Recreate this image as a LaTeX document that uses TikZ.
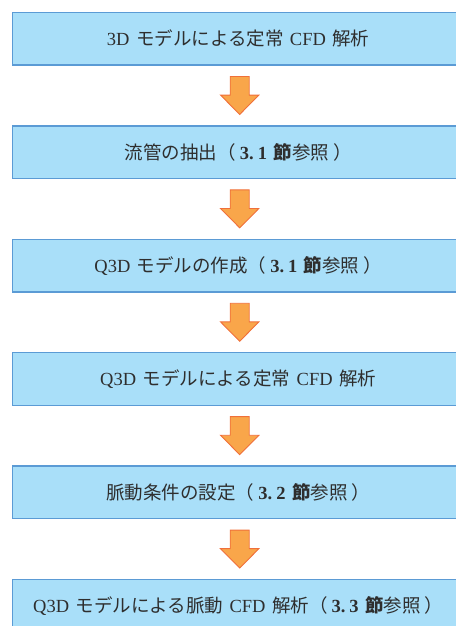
\documentclass[tikz,border=0pt]{standalone}
\usepackage{fontspec}
\setmainfont{Liberation Serif}
\newfontfamily\jp{Noto Sans CJK JP}
\usetikzlibrary{calc}
\definecolor{boxfill}{HTML}{A9DFF9}
\definecolor{boxline}{HTML}{5B9BD5}
\definecolor{arrfill}{HTML}{F9A64A}
\definecolor{arrline}{HTML}{F0703A}
\definecolor{txt}{HTML}{2E2E2E}
\newcommand\gap{\hspace{6.5pt}}
\newcommand\lp{{\jp （}\hspace{4pt}}
\newcommand\rp{\hspace{4pt}{\jp ）}}
\begin{document}
\begin{tikzpicture}[x=1pt,y=-1pt,
  flowbox/.style={draw=boxline, line width=1.4pt, fill=boxfill,
    minimum width=451pt, minimum height=52.7pt, anchor=north west,
    inner sep=0pt, text=txt, font=\fontsize{18.5}{21}\selectfont},
  flowarrow/.style={draw=arrline, line width=0.9pt, fill=arrfill, line join=miter}]
\useasboundingbox (0,0) rectangle (455,626);
\node[flowbox] (b1) at (12,11.7)
  {3D\gap{\jp モデルによる定常}\gap CFD\gap{\jp 解析}};
\node[flowbox] (b2) at (12,125.1)
  {{\jp 流管の抽出}\lp\textbf{3.\hspace{4pt}1}\gap{\jp\bfseries 節}{\jp 参照}\rp};
\node[flowbox] (b3) at (12,238.5)
  {Q3D\gap{\jp モデルの作成}\lp\textbf{3.\hspace{4pt}1}\gap{\jp\bfseries 節}{\jp 参照}\rp};
\node[flowbox] (b4) at (12,351.9)
  {Q3D\gap{\jp モデルによる定常}\gap CFD\gap{\jp 解析}};
\node[flowbox] (b5) at (12,465.3)
  {{\jp 脈動条件の設定}\lp\textbf{3.\hspace{4pt}2}\gap{\jp\bfseries 節}{\jp 参照}\rp};
\node[flowbox] (b6) at (12,578.7)
  {Q3D\gap{\jp モデルによる脈動}\gap CFD\gap{\jp 解析}\lp\textbf{3.\hspace{4pt}3}\gap{\jp\bfseries 節}{\jp 参照}\rp};
\foreach \a/\b in {b1/b2,b2/b3,b3/b4,b4/b5,b5/b6}{
  \coordinate (m\a) at ($($(\a.south)!0.5!(\b.north)$)+(1.5,0)$);
  \draw[flowarrow] ($(m\a)+(-9.5,-19)$) -- ($(m\a)+(9.5,-19)$)
    -- ($(m\a)+(9.5,-0.4)$) -- ($(m\a)+(19.2,-0.4)$)
    -- ($(m\a)+(0,19)$) -- ($(m\a)+(-19.2,-0.4)$)
    -- ($(m\a)+(-9.5,-0.4)$) -- cycle;
}
\end{tikzpicture}
\end{document}
